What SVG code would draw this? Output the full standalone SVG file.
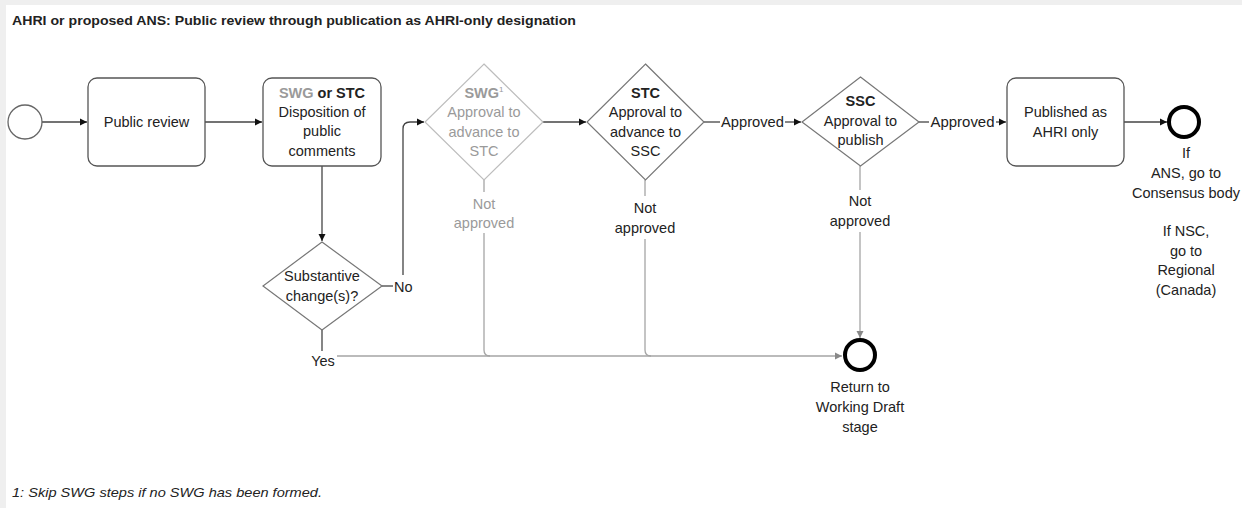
<svg xmlns="http://www.w3.org/2000/svg" width="1242" height="508" viewBox="0 0 1242 508">
<style>
text{font-family:"Liberation Sans",Arial,sans-serif;font-size:14.5px;fill:#222;}
.c{text-anchor:middle;}
.b{font-weight:bold;}
.g{fill:#9a9a9a;}
.box{fill:#fff;stroke:#555;stroke-width:1.3;}
.dia{fill:#fff;stroke:#777;stroke-width:1.2;}
.diag{fill:#fff;stroke:#bdbdbd;stroke-width:1.2;}
.ln{fill:none;stroke:#444;stroke-width:1.3;}
.lg{fill:none;stroke:#a5a5a5;stroke-width:1.3;}
</style>
<defs>
<marker id="ah" markerWidth="8" markerHeight="8" refX="7" refY="4" orient="auto" markerUnits="userSpaceOnUse"><path d="M0,0.5 L7,4 L0,7.5 z" fill="#111"/></marker>
<marker id="ahg" markerWidth="8" markerHeight="8" refX="7" refY="4" orient="auto" markerUnits="userSpaceOnUse"><path d="M0,0.5 L7,4 L0,7.5 z" fill="#888"/></marker>
</defs>
<rect x="0" y="0" width="1242" height="508" fill="#fff"/>
<rect x="0" y="0" width="1242" height="5" fill="#efefef"/>
<rect x="0" y="0" width="6" height="508" fill="#efefef"/>
<text x="12" y="25" class="b" style="font-size:13.5px" textLength="564" lengthAdjust="spacingAndGlyphs">AHRI or proposed ANS: Public review through publication as AHRI-only designation</text>

<g id="connectors">
<line class="ln" x1="42" y1="122" x2="87" y2="122" marker-end="url(#ah)"/>
<line class="ln" x1="205" y1="122" x2="262" y2="122" marker-end="url(#ah)"/>
<line class="ln" x1="322" y1="166" x2="322" y2="241" marker-end="url(#ah)"/>
<line class="ln" x1="382" y1="286" x2="393" y2="286"/>
<path class="ln" d="M403,275 V129 Q403,122 410,122 H424" marker-end="url(#ah)"/>
<line class="ln" x1="543" y1="122" x2="586" y2="122" marker-end="url(#ah)"/>
<line class="ln" x1="704" y1="122" x2="720" y2="122"/>
<line class="ln" x1="785" y1="122" x2="801" y2="122" marker-end="url(#ah)"/>
<line class="ln" x1="919" y1="122" x2="929" y2="122"/>
<line class="ln" x1="996" y1="122" x2="1006" y2="122" marker-end="url(#ah)"/>
<line class="ln" x1="1124" y1="122" x2="1167" y2="122" marker-end="url(#ah)"/>
<line class="ln" x1="322" y1="330" x2="322" y2="351"/>
<line class="lg" x1="337" y1="356" x2="842" y2="356" marker-end="url(#ahg)"/>
<line class="lg" x1="484" y1="180" x2="484" y2="192"/>
<path class="lg" d="M484,233 V350 Q484,356 490,356"/>
<line class="lg" x1="645" y1="180" x2="645" y2="196"/>
<path class="lg" d="M645,239 V350 Q645,356 651,356"/>
<line class="lg" x1="860" y1="166" x2="860" y2="190"/>
<line class="lg" x1="860" y1="232" x2="860" y2="338" marker-end="url(#ahg)"/>
<text x="394" y="292">No</text>
<text x="323" y="366" class="c">Yes</text>
<text x="752.5" y="127" class="c" textLength="63" lengthAdjust="spacingAndGlyphs">Approved</text>
<text x="962.5" y="127" class="c" textLength="64" lengthAdjust="spacingAndGlyphs">Approved</text>
<text x="484" y="209" class="c g">Not</text>
<text x="484" y="228" class="c g">approved</text>
<text x="645" y="213" class="c">Not</text>
<text x="645" y="233" class="c">approved</text>
<text x="860" y="206" class="c">Not</text>
<text x="860" y="226" class="c">approved</text>
</g>

<g id="start">
<circle cx="25" cy="122" r="17" fill="#fff" stroke="#666" stroke-width="1.3"/>
</g>

<g id="public-review">
<rect class="box" x="88" y="78" width="117" height="88" rx="9"/>
<text x="146.5" y="127" class="c">Public review</text>
</g>

<g id="disposition">
<rect class="box" x="263" y="78" width="118" height="88" rx="9"/>
<text x="322" y="98" class="c b"><tspan class="g">SWG</tspan> or STC</text>
<text x="322" y="117" class="c">Disposition of</text>
<text x="322" y="136" class="c">public</text>
<text x="322" y="156" class="c">comments</text>
</g>

<g id="substantive">
<polygon class="dia" points="322,242 382,286 322,330 263,286"/>
<text x="322" y="281" class="c">Substantive</text>
<text x="322" y="301" class="c">change(s)?</text>
</g>

<g id="swg-approval">
<polygon class="diag" points="484,64 543,122 484,180 425,122"/>
<text x="484" y="98" class="c b g">SWG<tspan dy="-6" style="font-size:8px;font-weight:normal">1</tspan></text>
<text x="484" y="117" class="c g">Approval to</text>
<text x="484" y="137" class="c g">advance to</text>
<text x="484" y="156" class="c g">STC</text>
</g>

<g id="stc-approval">
<polygon class="dia" points="645.5,64 704,122 645.5,180 587,122"/>
<text x="645.5" y="98" class="c b">STC</text>
<text x="645.5" y="117" class="c">Approval to</text>
<text x="645.5" y="137" class="c">advance to</text>
<text x="645.5" y="156" class="c">SSC</text>
</g>

<g id="ssc-approval">
<polygon class="dia" points="860.5,77 919,122 860.5,166 802,122"/>
<text x="860.5" y="106" class="c b">SSC</text>
<text x="860.5" y="126" class="c">Approval to</text>
<text x="860.5" y="145" class="c">publish</text>
</g>

<g id="published">
<rect class="box" x="1007" y="78" width="117" height="88" rx="9"/>
<text x="1065.5" y="117" class="c">Published as</text>
<text x="1065.5" y="137" class="c">AHRI only</text>
</g>

<g id="end-published">
<circle cx="1184" cy="122" r="15" fill="#fff" stroke="#000" stroke-width="4"/>
<text x="1186" y="158" class="c">If</text>
<text x="1186" y="178" class="c">ANS, go to</text>
<text x="1186" y="198" class="c">Consensus body</text>
<text x="1186" y="236" class="c">If NSC,</text>
<text x="1186" y="256" class="c">go to</text>
<text x="1186" y="275" class="c">Regional</text>
<text x="1186" y="295" class="c">(Canada)</text>
</g>

<g id="end-return">
<circle cx="860" cy="355" r="15" fill="#fff" stroke="#000" stroke-width="4"/>
<text x="860" y="392" class="c">Return to</text>
<text x="860" y="412" class="c">Working Draft</text>
<text x="860" y="432" class="c">stage</text>
</g>

<text x="12" y="497" style="font-style:italic;font-size:13.5px" textLength="310" lengthAdjust="spacingAndGlyphs">1: Skip SWG steps if no SWG has been formed.</text>
</svg>
